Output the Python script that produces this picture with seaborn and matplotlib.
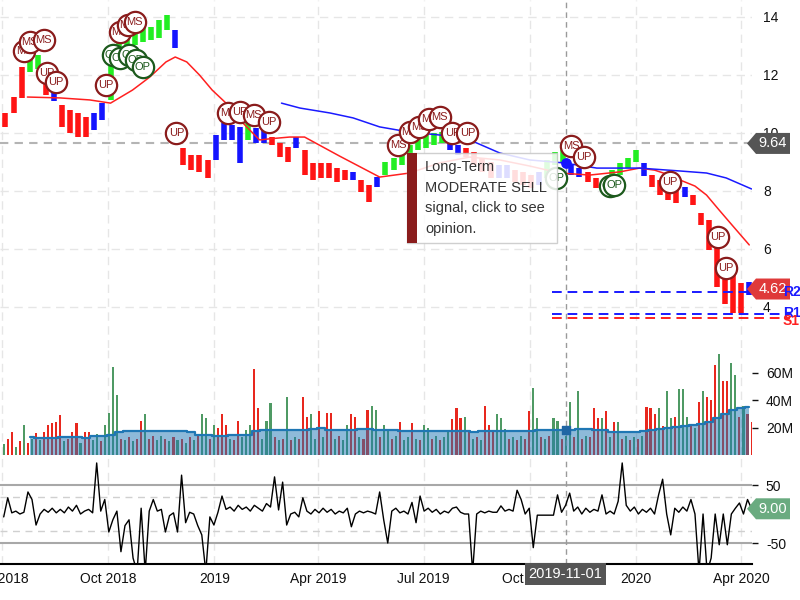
import numpy as np
import pandas as pd
import matplotlib
matplotlib.use("Agg")
import matplotlib.pyplot as plt
import matplotlib.dates as mdates
import matplotlib.ticker as mticker
from matplotlib.patches import Polygon, Rectangle
from matplotlib.transforms import IdentityTransform
import seaborn as sns

sns.set_theme(style="white")
plt.rcParams["font.family"] = ["Liberation Sans", "DejaVu Sans"]

# ---------------- data ----------------
first_week = "2018-07-04"          # weekly price bars (Wednesdays)
price_low = [10.21, 10.70, 11.21, 12.10, 12.20, 11.30, 11.10, 10.21, 10.00, 9.86,
             9.86, 10.10, 10.45, 11.14, 12.45, 12.79, 13.03, 13.14, 13.21, 13.28,
             13.55, 12.93, 8.90, 8.72, 8.66, 8.45, 9.07, 9.76, 9.76, 8.97,
             9.76, 9.66, 9.66, 9.59, 9.17, 9.00, 9.48, 8.55, 8.38, 8.45,
             8.45, 8.31, 8.38, 8.38, 7.97, 7.62, 8.14, 8.55, 8.72, 8.90,
             9.24, 9.41, 9.48, 9.59, 9.66, 9.41, 9.24, 9.17, 8.90, 8.66,
             8.45, 8.45, 8.45, 8.31, 8.21, 8.10, 8.21, 8.45, 8.90, 8.97,
             8.55, 8.48, 8.31, 8.10, 8.03, 8.31, 8.55, 8.79, 9.00, 8.52,
             8.14, 7.86, 7.69, 7.59, 7.79, 7.52, 6.83, 5.97, 4.69, 4.10,
             3.80, 3.80, 4.41]
price_high = [10.69, 11.24, 12.28, 12.70, 12.70, 11.95, 11.55, 10.97, 10.79, 10.69,
              10.55, 10.69, 11.03, 12.34, 13.14, 13.38, 13.55, 13.72, 13.66, 13.90,
              14.07, 13.55, 9.48, 9.24, 9.24, 9.07, 9.93, 10.34, 10.28, 10.21,
              10.34, 10.17, 10.10, 9.86, 9.66, 9.52, 9.86, 9.41, 8.97, 8.97,
              8.97, 8.79, 8.72, 8.66, 8.38, 8.21, 8.48, 9.00, 9.14, 9.41,
              9.59, 9.83, 9.93, 10.00, 10.03, 10.00, 9.59, 9.48, 9.34, 9.14,
              9.00, 8.90, 8.90, 8.72, 8.66, 8.55, 8.66, 9.07, 9.34, 9.41,
              8.90, 8.79, 8.66, 8.45, 8.38, 8.72, 8.97, 9.14, 9.41, 8.97,
              8.55, 8.38, 8.21, 8.10, 8.14, 7.86, 7.24, 7.00, 6.31, 5.45,
              5.28, 4.83, 4.86]
price_state = ("rrrggrbrrr" "rbbggggggg" "gbrrrrbbbb" "gbbrrrbrrr" "rrrbrrbggg"
               "gggggbbrrr" "rbbrrrbggg" "bbrrrggggb" "rrrrbrrrrr" "rrb")

ma50_dates = ["2018-07-23", "2018-08-20", "2018-09-15", "2018-10-03", "2018-10-22",
              "2018-11-06", "2018-11-20", "2018-11-28", "2018-12-08", "2018-12-19",
              "2018-12-30", "2019-01-11", "2019-01-23", "2019-02-09", "2019-02-18",
              "2019-03-07", "2019-03-20", "2019-04-19", "2019-05-24", "2019-06-19",
              "2019-07-15", "2019-08-10", "2019-09-05", "2019-10-01", "2019-10-27",
              "2019-11-22", "2019-12-18", "2020-01-04", "2020-01-17", "2020-01-30",
              "2020-02-08", "2020-02-21", "2020-03-02", "2020-03-13", "2020-03-24",
              "2020-04-08"]
ma50_vals = [11.24, 11.21, 11.14, 11.03, 11.48, 11.93, 12.45, 12.62, 12.45, 12.00,
             11.48, 11.03, 10.45, 9.76, 9.80, 9.86, 9.86, 9.21, 8.48, 8.62,
             8.97, 9.17, 9.07, 8.86, 8.62, 8.55, 8.66, 8.79, 8.72, 8.55,
             8.38, 8.17, 7.86, 7.34, 6.83, 6.14]

ma200_dates = ["2019-02-28", "2019-03-16", "2019-04-11", "2019-05-01", "2019-05-24",
               "2019-06-19", "2019-07-15", "2019-08-10", "2019-09-05", "2019-10-01",
               "2019-10-30", "2019-11-28", "2020-01-04", "2020-02-08", "2020-03-02",
               "2020-03-19", "2020-04-10"]
ma200_vals = [11.03, 10.86, 10.69, 10.52, 10.21, 10.03, 9.93, 9.76, 9.31, 9.07,
              8.97, 8.79, 8.79, 8.69, 8.62, 8.45, 8.07]

first_half = "2018-07-02 12:00"      # half-week volume / oscillator samples
volume_m = [8, 12, 17, 6, 10, 22, 9, 12, 16, 11,
            17, 22, 23, 24, 29, 10, 12, 17, 23, 9,
            17, 17, 11, 15, 10, 22, 31, 64, 44, 12,
            11, 13, 10, 12, 25, 30, 12, 14, 11, 14,
            12, 10, 13, 11, 12, 9, 13, 11, 14, 30,
            27, 12, 22, 20, 30, 22, 12, 11, 25, 13,
            18, 22, 63, 34, 12, 25, 38, 13, 11, 12,
            42, 11, 13, 12, 42, 28, 30, 12, 32, 13,
            31, 31, 12, 14, 11, 22, 30, 28, 13, 12,
            33, 36, 33, 13, 22, 18, 12, 14, 24, 11,
            13, 23, 12, 11, 22, 20, 12, 14, 11, 13,
            17, 26, 34, 27, 28, 18, 12, 13, 11, 36,
            22, 17, 30, 27, 19, 12, 13, 11, 14, 12,
            32, 49, 27, 13, 12, 14, 27, 25, 12, 14,
            39, 13, 47, 12, 14, 13, 34, 27, 27, 32,
            13, 24, 24, 12, 14, 11, 13, 12, 14, 35,
            34, 30, 34, 21, 47, 27, 28, 48, 48, 28,
            22, 20, 39, 47, 42, 40, 66, 74, 54, 54,
            67, 58, 28, 36, 30, 24]
volume_dir = ("grrgrgrgrg" "rrrrrgrrrg" "rrggrggggr" "grgrrgrrgg" "rgrgrgrgrg"
              "grgrrrgrrg" "ggrrgggrgr" "grgrrrggrg" "rrgrggrrgr" "rggrggrgrg"
              "grgrggrgrg" "grrrgrgrgr" "rrgggrgrgr" "rggrgrggrg" "grgrgrrrgr"
              "grgrgrgrgr" "rrgrggrggg" "rgrgrrrgrr" "ggrgrr")
vol_ma_m = [np.nan, np.nan, np.nan, 13, 12.5, 12.5, 12.5, 13, 13, 13,
            12.5, 13.5, 13.5, 14.5, 16.5, 17.5, 17.5, 17.5, 17.5, 17.5,
            17.5, 17.5, 17.5, 17.0, 14.5, 14.5, 14.2, 14.2, 14.6, 14.6,
            14.6, 17.5, 18.0, 18.0, 18.0, 18.0, 18.0, 18.5, 19.0, 19.6,
            18.5, 18.5, 18.5, 18.5, 18.8, 19.0, 18.5, 18.2, 18.0, 17.5,
            17.5, 17.3, 17.5, 17.8, 17.5, 17.3, 17.5, 17.5, 17.0, 17.3,
            17.5, 17.5, 17.3, 17.5, 17.5, 17.8, 18.4, 18.2, 18.0, 18.5,
            18.5, 19.0, 19.0, 18.5, 18.0, 17.0, 17.0, 16.8, 16.6, 17.5,
            18.5, 19.0, 19.6, 20.5, 21.0, 22.0, 22.8, 24.0, 27.0, 30.0,
            32.5, 34.0, 35.0]
osc = [-5, 28, 2, 5, 0, 3, 38, 25, -19, 0,
       8, 3, 10, 2, 8, 2, 12, 5, 15, 0,
       5, 8, 2, 88, 5, 25, -31, -10, 5, -65,
       -20, -10, -76, -100, 10, -100, 5, 25, 5, 8,
       -31, -3, 2, -31, 67, -15, 3, 0, -20, -36,
       -100, -5, -19, 3, 31, 8, 12, 5, 15, 8,
       12, 5, 15, 10, 5, 18, 12, 64, 7, 55,
       -19, 0, 3, -5, 28, 5, 0, 8, 2, 10,
       3, 8, 0, 5, 2, 10, -22, 0, 5, 2,
       5, 3, 0, 38, -10, -50, 5, 10, 2, 5,
       0, 20, -15, 31, 5, 10, 3, 8, 0, 5,
       2, 10, 12, 3, 0, 0, -100, 0, 5, 2,
       5, 3, 3, 14, 5, 8, 5, 41, 25, 0,
       10, -58, -2, -2, -2, -2, -2, 33, 3, 15,
       36, 5, 12, 0, 10, 3, 8, 5, 33, 0,
       5, 0, 22, 88, 15, 5, 12, 0, 8, 3,
       10, 0, 33, 60, 0, -36, 10, 3, 12, 5,
       25, 0, -100, 0, -100, -76, 0, -53, 0, -53,
       0, 10, 19, 0, 25, 9]

marker_dates = ["2018-07-20", "2018-07-25", "2018-08-06", "2018-08-09", "2018-08-17",
                "2018-09-29", "2018-10-11", "2018-10-18", "2018-10-24",
                "2018-10-05", "2018-10-11", "2018-10-19", "2018-10-25", "2018-10-31",
                "2018-11-29", "2019-01-13", "2019-01-23", "2019-02-04", "2019-02-17",
                "2019-06-09", "2019-06-19", "2019-06-27", "2019-07-06", "2019-07-15",
                "2019-07-26", "2019-08-08", "2019-10-24", "2019-11-06", "2019-11-17",
                "2019-12-09", "2019-12-13", "2020-01-30", "2020-03-12", "2020-03-19"]
marker_prices = [12.83, 13.14, 13.21, 12.07, 11.76,
                 11.66, 13.48, 13.72, 13.83,
                 12.69, 12.59, 12.69, 12.52, 12.28,
                 10.00, 10.69, 10.72, 10.62, 10.38,
                 9.59, 10.03, 10.21, 10.48, 10.55,
                 10.00, 10.00, 8.45, 9.55, 9.17,
                 8.17, 8.21, 8.31, 6.41, 5.34]
marker_labels = ["MS", "MS", "MS", "UP", "UP",
                 "UP", "MS", "MS", "MS",
                 "OP", "OP", "OP", "OP", "OP",
                 "UP", "MS", "UP", "MS", "UP",
                 "MS", "MS", "MS", "MS", "MS",
                 "UP", "UP", "OP", "MS", "UP",
                 "OP", "OP", "UP", "UP", "UP"]

last_price = 4.62
ref_price = 9.64
last_osc = 9.00
level_names = ["R2", "R1", "S1"]
level_values = [4.52, 3.76, 3.62]
level_start = "2019-10-20"
cross_date = "2019-11-01"
cross_price = 8.97
cross_volume = 18.2
price_ticks = [4, 6, 8, 10, 12, 14]
volume_ticks = [20, 40, 60]
osc_ticks = [-50, 50]
tip_lines = ["Long-Term", "MODERATE SELL", "signal, click to see", "opinion."]

# ---------------- figure ----------------
W, H = 800, 600
fig = plt.figure(figsize=(8, 6), dpi=100)


def frame(x0, y0, x1, y1):
    return [x0 / W, 1 - y1 / H, (x1 - x0) / W, (y1 - y0) / H]


ax_p = fig.add_axes(frame(0, 0, 752, 348))
ax_v = fig.add_axes(frame(0, 350, 752, 455), sharex=ax_p)
ax_o = fig.add_axes(frame(0, 457, 752, 564), sharex=ax_p)

xlim = (pd.Timestamp("2018-06-29 07:00"), pd.Timestamp("2020-04-10 09:00"))

# price bars
weeks = pd.date_range(first_week, periods=len(price_low), freq="7D")
lo = np.array(price_low)
hi = np.array(price_high)
state_colors = {"r": "#ff1414", "g": "#22ee22", "b": "#1414ff"}
for s, c in state_colors.items():
    idx = [i for i, ch in enumerate(price_state) if ch == s]
    ax_p.vlines(weeks[idx], lo[idx], hi[idx], colors=c, lw=4.0, zorder=3)

sns.lineplot(x=pd.to_datetime(ma50_dates), y=ma50_vals, ax=ax_p,
             color="#ff2020", lw=1.1, zorder=4)
sns.lineplot(x=pd.to_datetime(ma200_dates), y=ma200_vals, ax=ax_p,
             color="#1a1aff", lw=1.1, zorder=4)

ax_p.axhline(ref_price, color="#b4b4b4", lw=1.5, ls=(0, (4, 3)), zorder=2)

# support / resistance
lvl_colors = {"R": "#1a1aff", "S": "#ff2020"}
x_end = pd.Timestamp(xlim[1]) + pd.Timedelta(days=33)
for name, val in zip(level_names, level_values):
    c = lvl_colors[name[0]]
    ax_p.hlines(val, pd.Timestamp(level_start), x_end, colors=c, lw=1.4,
                linestyles=(0, (5, 3)), clip_on=False, zorder=5)

# markers
mk_col = {"MS": "#8a1c1c", "UP": "#8a1c1c", "OP": "#1d5a1d"}
for i, (d, p, lab) in enumerate(zip(pd.to_datetime(marker_dates), marker_prices, marker_labels)):
    c = mk_col[lab]
    ax_p.scatter([d], [p], s=235, facecolor="white", edgecolor=c, lw=1.6, zorder=6 + 0.02 * i)
    ax_p.text(d, p, lab, ha="center", va="center", fontsize=8, color=c, zorder=6.01 + 0.02 * i)

cross = pd.Timestamp(cross_date)
ax_p.scatter([cross], [cross_price], s=45, color="#1414ff", zorder=8)

# volume
half = pd.date_range(first_half, periods=len(volume_m), freq="84h")
vcols = ["#e8281e" if ch == "r" else "#4f9a64" for ch in volume_dir]
ax_v.bar(half, volume_m, width=1.8, color=vcols, zorder=2, linewidth=0)
ax_v.fill_between(weeks, vol_ma_m, 0, step="mid", color="#1f77b4", alpha=0.5, lw=0, zorder=3)
sns.lineplot(x=weeks, y=vol_ma_m, ax=ax_v, color="#1f77b4", lw=1.6,
             drawstyle="steps-mid", zorder=4)
ax_v.scatter([cross], [cross_volume], s=40, marker="s", color="#1f66a4", zorder=5)

# oscillator
for v in (50, -50):
    ax_o.axhline(v, color="#a8a8a8", lw=1.5, zorder=1)
for v in (30, -30):
    ax_o.axhline(v, color="#d0d0d0", lw=1, ls=(0, (5, 4)), zorder=1)
sns.lineplot(x=half, y=osc, ax=ax_o, color="black", lw=1, zorder=3)

# limits and styling (after seaborn)
ax_p.set_xlim(*xlim)
ax_p.set_ylim(2.586, 14.586)
ax_v.set_ylim(0, 76.6)
ax_o.set_ylim(-86.2, 98.3)

GRID = dict(color="#e6e6e6", linestyle=(0, (6, 4)), linewidth=1)
for ax in (ax_p, ax_v, ax_o):
    for sp in ax.spines.values():
        sp.set_visible(False)
    ax.set_facecolor("white")
    ax.xaxis.set_major_locator(mdates.MonthLocator(bymonth=(1, 4, 7, 10)))
    ax.grid(True, axis="x", **GRID)
    ax.set_xlabel("")
    ax.set_ylabel("")
ax_p.grid(True, axis="y", **GRID)
ax_o.spines["bottom"].set_visible(True)
ax_o.spines["bottom"].set_color("black")
ax_o.spines["bottom"].set_linewidth(1.5)

# crosshair
for ax in (ax_p, ax_v, ax_o):
    ax.axvline(cross, color="#9a9a9a", lw=1, ls=(0, (4, 3)), zorder=2)

# ticks
ax_p.set_yticks(price_ticks)
ax_p.set_yticklabels([str(t) for t in price_ticks])
ax_v.set_yticks(volume_ticks)
ax_v.set_yticklabels([f"{t}M" for t in volume_ticks])
ax_o.set_yticks(osc_ticks)
ax_o.set_yticklabels([str(t) for t in osc_ticks])
for ax in (ax_p, ax_v, ax_o):
    ax.yaxis.tick_right()
ax_p.tick_params(axis="y", length=0, pad=8, labelsize=10, labelcolor="#111111")
for ax in (ax_v, ax_o):
    ax.tick_params(axis="y", length=4, width=1, pad=6, labelsize=10,
                   labelcolor="#111111", color="#111111", right=True)
for ax in (ax_p, ax_v):
    ax.tick_params(axis="x", labelbottom=False, length=0)


def fmt_date(x, pos):
    d = mdates.num2date(x)
    return f"{d.year}" if d.month == 1 else d.strftime("%b %Y")


ax_o.xaxis.set_major_formatter(mticker.FuncFormatter(fmt_date))
ax_o.tick_params(axis="x", length=0, pad=6, labelsize=10, labelcolor="#111111")

# tooltip
tip = Rectangle((407 / W, 1 - 243 / H), 150 / W, 90 / H, transform=fig.transFigure,
                facecolor="white", alpha=0.86, edgecolor="#c8c8c8", lw=1, zorder=30)
fig.add_artist(tip)
fig.add_artist(Rectangle((407 / W, 1 - 243 / H), 10 / W, 90 / H, transform=fig.transFigure,
                         facecolor="#8a1c1c", edgecolor="none", zorder=31))
for i, line in enumerate(tip_lines):
    fig.text(425 / W, 1 - (167 + 20.5 * i) / H, line, ha="left", va="center",
             fontsize=10.5, color="#333333", zorder=32)


# value tags on the right
def tag(ax, yval, text, color):
    xr = ax.transAxes.transform((1.0, 0.0))[0]
    yd = ax.transData.transform((mdates.date2num(cross), yval))[1]
    pts = [(xr - 5, yd), (xr + 4, yd + 10.5), (xr + 38, yd + 10.5),
           (xr + 38, yd - 10.5), (xr + 4, yd - 10.5)]
    fig.add_artist(Polygon(pts, closed=True, transform=IdentityTransform(),
                           facecolor=color, edgecolor="none", zorder=20))
    fig.text((xr + 21) / W, yd / H, text, ha="center", va="center",
             fontsize=10.5, color="white", zorder=22)


tag(ax_p, ref_price, f"{ref_price:.2f}", "#555555")
tag(ax_p, last_price, f"{last_price:.2f}", "#df3a3a")
tag(ax_o, last_osc, f"{last_osc:.2f}", "#6aab80")

# labels for support / resistance levels (above the tags)
for name, val, dy in zip(level_names, level_values, [0, 0.05, -0.12]):
    yd = ax_p.transData.transform((mdates.date2num(cross), val + dy))[1]
    fig.text(783 / W, yd / H, name, ha="left", va="center", fontsize=10,
             fontweight="bold", color=lvl_colors[name[0]], zorder=23)

# crosshair date box
cx = ax_o.transData.transform((mdates.date2num(cross), 0))[0]
fig.text(cx / W, 1 - 574 / H, cross_date, ha="center", va="center", fontsize=10.5,
         color="white", zorder=25,
         bbox=dict(boxstyle="square,pad=0.25", facecolor="#555555", edgecolor="none"))

fig.savefig("out.png", dpi=100)
